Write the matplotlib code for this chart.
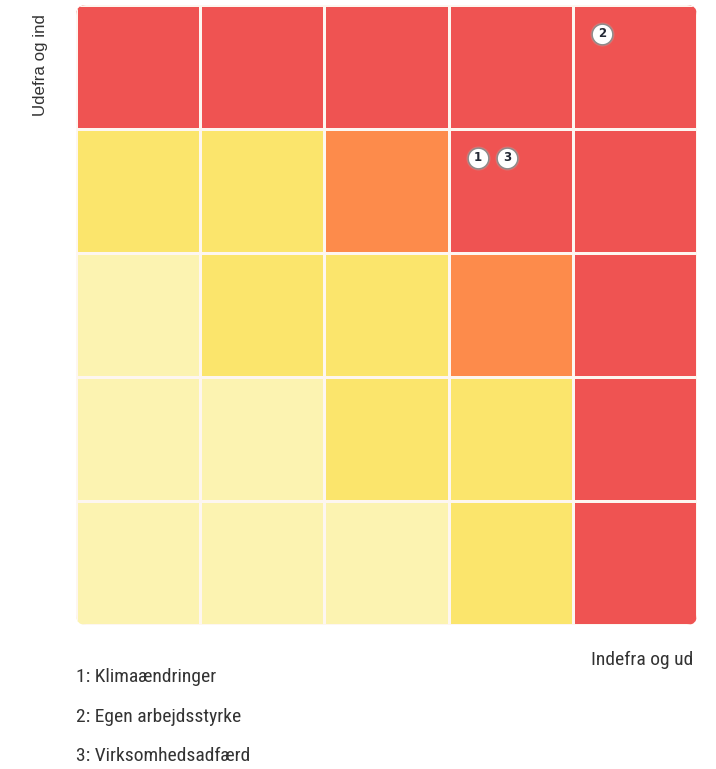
import matplotlib
matplotlib.use('Agg')
import matplotlib.pyplot as plt
from matplotlib.patches import FancyBboxPatch
from matplotlib.colors import ListedColormap
import numpy as np

# risk level per cell, rows top to bottom, cols left to right
# 0 = low, 1 = medium, 2 = high, 3 = critical
levels = [
    [3, 3, 3, 3, 3],
    [1, 1, 2, 3, 3],
    [0, 1, 1, 2, 3],
    [0, 0, 1, 1, 3],
    [0, 0, 0, 1, 3],
]
level_colors = ['#fcf3b1', '#fbe56c', '#fd8b4b', '#ef5352']

# items placed on the matrix: number, column, row (from top)
item_ids = [1, 2, 3]
item_names = ['Klimaændringer', 'Egen arbejdsstyrke', 'Virksomhedsadfærd']
item_cols = [3, 4, 3]
item_rows = [1, 0, 1]

x_label = 'Indefra og ud'
y_label = 'Udefra og ind'

narrow = ['Liberation Sans Narrow', 'Roboto Condensed', 'DejaVu Sans']

fig = plt.figure(figsize=(7.16, 7.69), dpi=100)
ax = fig.add_axes([76 / 716, 1 - 625 / 769, 621 / 716, 620 / 769])

grid = np.array(levels)
mesh = ax.pcolormesh(np.arange(6), np.arange(6), grid,
                     cmap=ListedColormap(level_colors), vmin=-0.5, vmax=3.5,
                     edgecolors='#fdf6f0', linewidth=0.9)
ax.set_xlim(0, 5)
ax.set_ylim(5, 0)
ax.axis('off')

# rounded outer corners
clip = FancyBboxPatch((0, 0), 1, 1,
                      boxstyle='round,pad=0,rounding_size=0.016',
                      transform=ax.transAxes, facecolor='none',
                      edgecolor='none', mutation_aspect=621 / 620)
ax.add_patch(clip)
mesh.set_clip_path(clip)

# markers, stacked left to right inside their cell
slot = {}
for num, c, r in zip(item_ids, item_cols, item_rows):
    k = slot.get((c, r), 0)
    slot[(c, r)] = k + 1
    mx = c + 0.235 + k * 0.235
    my = r + 0.23
    ax.scatter([mx], [my], s=300, color='#b0b0b0', alpha=0.35,
               linewidths=0, zorder=4)
    ax.scatter([mx], [my], s=220, color='white', edgecolors='#8c8c8c',
               linewidths=1.0, zorder=5)
    ax.text(mx, my, str(num), ha='center', va='center', fontsize=8.5,
            fontweight='bold', color='#252a36', zorder=6)

fig.text(40 / 716, 1 - 14 / 769, y_label, rotation=90, ha='center', va='top',
         fontsize=12.2, color='#333333', family=['Liberation Sans', 'DejaVu Sans'])
fig.text(693 / 716, 1 - 660 / 769, x_label, ha='right', va='center',
         fontsize=14, color='#333333', family=narrow)

for i, (num, name) in enumerate(zip(item_ids, item_names)):
    fig.text(76 / 716, 1 - (677 + i * 39.5) / 769, f'{num}: {name}',
             ha='left', va='center', fontsize=14, color='#333333', family=narrow)

fig.savefig('out.png', dpi=100, facecolor='white')
